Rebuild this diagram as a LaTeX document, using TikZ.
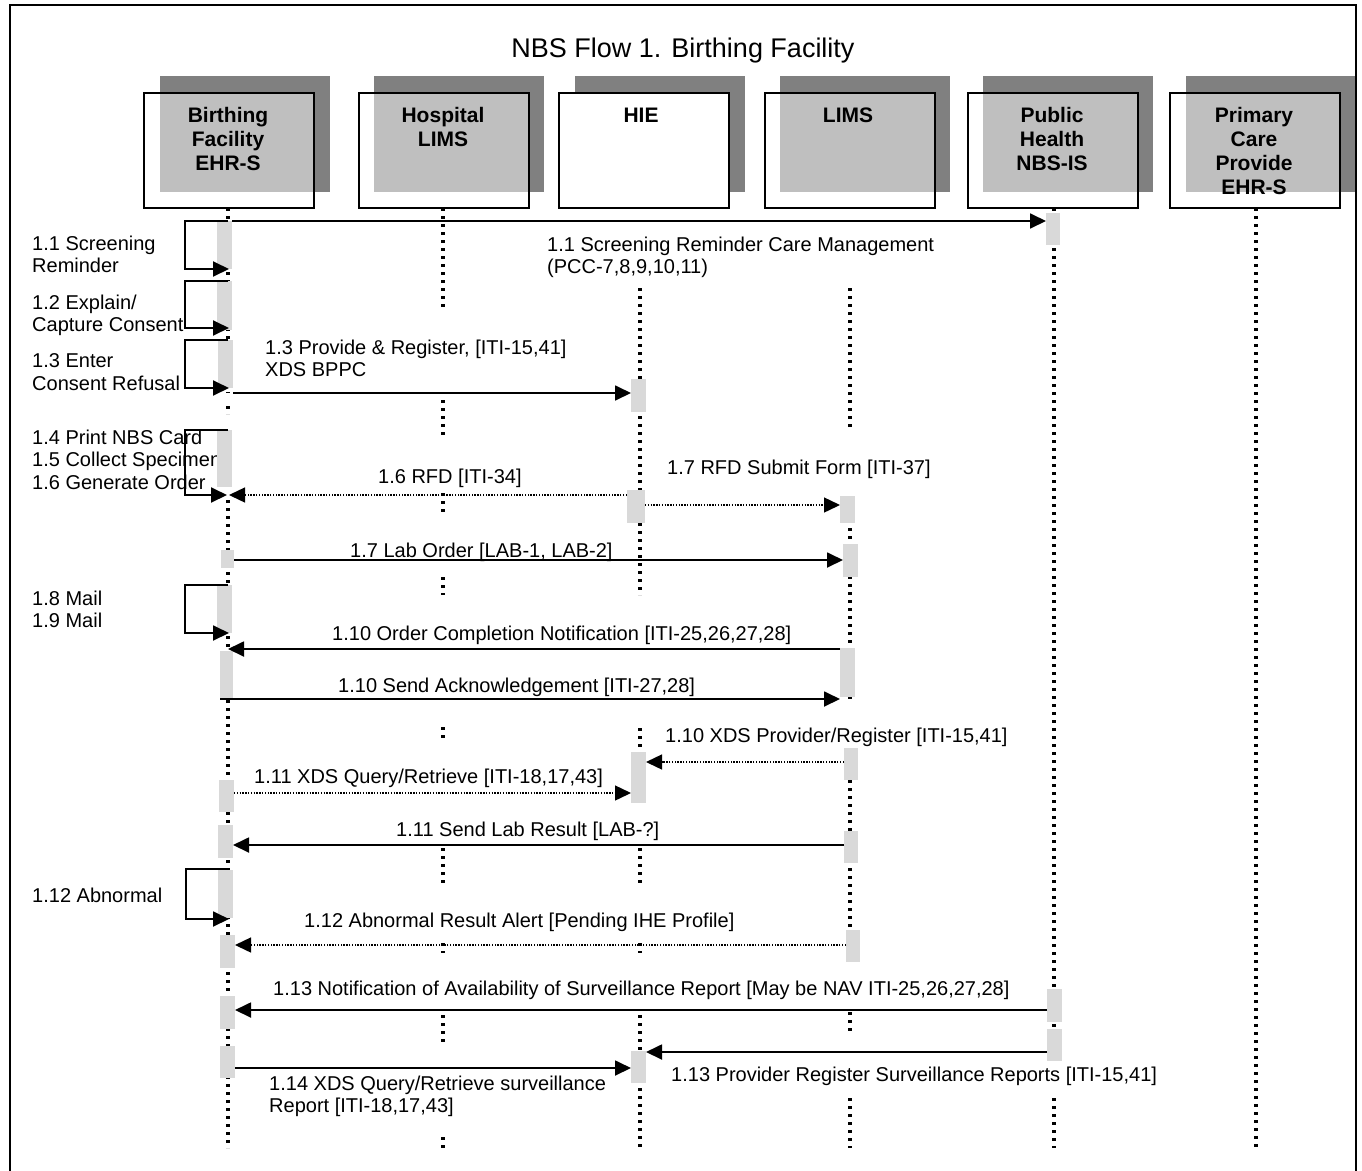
\documentclass[tikz,border=0pt]{standalone}
\usepackage{fontspec}
\setmainfont{Liberation Sans}
\usetikzlibrary{arrows.meta}
\definecolor{shadowgray}{HTML}{808080}
\definecolor{actgray}{HTML}{D9D9D9}
% lifeline segment: x, top, bottom
\newcommand{\lseg}[3]{\draw[life] (#1,#2) -- (#1,#3);}
% activation bar: name, left, right, top, bottom
\newcommand{\abar}[5]{\node[actbar, minimum width=#3pt-#2pt, minimum height=#5pt-#4pt] (#1) at ({(#2+#3)/2},{(#4+#5)/2}) {};}
\begin{document}
\begin{tikzpicture}[x=1pt,y=-1pt,
  txt/.style={inner sep=0pt, font=\fontsize{20}{22.8}\selectfont, align=left},
  hdr/.style={inner sep=0pt, anchor=north, font=\fontsize{21}{24}\selectfont\bfseries, align=center},
  hbox/.style={draw, line width=1.8pt, inner sep=0pt, anchor=north west, minimum width=170pt, minimum height=115pt},
  life/.style={line width=3.6pt, dash pattern=on 3.4pt off 4.6pt},
  actbar/.style={fill=actgray, draw=none, inner sep=0pt, outer sep=0pt},
  tip/.style={-{Triangle[length=16pt,width=15pt]}},
  msg/.style={tip, line width=1.8pt},
  dmsg/.style={tip, line width=1.4pt, dash pattern=on 1.4pt off 1.4pt},
  selfloop/.style={tip, line width=1.9pt},
]
\useasboundingbox (0,0) rectangle (1362,1170);

% outer frame
\draw[line width=2pt] (10,1175) -- (10,5) -- (1356,5) -- (1356,1175);

% title
\node[inner sep=0pt, anchor=base, font=\fontsize{27}{30}\selectfont] (title) at (683,57) {NBS Flow 1. Birthing Facility};

% participant boxes with offset shadows
\fill[shadowgray] (160,76) rectangle (330,192);
\fill[shadowgray] (374,76) rectangle (544,192);
\fill[shadowgray] (575,76) rectangle (745,192);
\fill[shadowgray] (780,76) rectangle (950,192);
\fill[shadowgray] (983,76) rectangle (1153,192);
\fill[shadowgray] (1186,76) rectangle (1355,192);

\node[hbox, fill=white, fill opacity=0.5] (boxB) at (143,92) {};
\node[hbox, fill=white, fill opacity=0.5] (boxH) at (358,92) {};
\node[hbox, fill=white] (boxX) at (558,92) {};
\node[hbox, fill=white, fill opacity=0.5] (boxL) at (764,92) {};
\node[hbox, fill=white, fill opacity=0.5] (boxP) at (967,92) {};
\node[hbox, fill=white, fill opacity=0.5] (boxC) at (1169,92) {};

\node[hdr] (tB) at (228,107.5) {Birthing\\Facility\\EHR-S};
\node[hdr] (tH) at (443,107.5) {Hospital\\LIMS};
\node[hdr] (tX) at (641,107.5) {HIE};
\node[hdr] (tL) at (848,107.5) {LIMS};
\node[hdr] (tP) at (1052,107.5) {Public\\Health\\NBS-IS};
\node[hdr] (tC) at (1254,107.5) {Primary\\Care\\Provide\\EHR-S};

% lifelines
\coordinate (B) at (228,0);
\coordinate (H) at (443,0);
\coordinate (X) at (640,0);
\coordinate (L) at (850,0);
\coordinate (P) at (1054,0);
\coordinate (C) at (1256,0);

\lseg{228}{208}{393}
\lseg{228}{406}{414}
\lseg{228}{500}{1148}

\lseg{443}{208}{307}
\lseg{443}{400}{435}
\lseg{443}{493}{512}
\lseg{443}{577}{595}
\lseg{443}{727}{740}
\lseg{443}{848}{883}
\lseg{443}{943}{953}
\lseg{443}{1015}{1043}
\lseg{443}{1137}{1148}

\lseg{640}{288}{490}
\lseg{640}{523}{595}
\lseg{640}{728}{803}
\lseg{640}{848}{883}
\lseg{640}{943}{953}
\lseg{640}{1015}{1051}
\lseg{640}{1088}{1148}

\lseg{850}{288}{427}
\lseg{850}{496}{700}
\lseg{850}{748}{963}
\lseg{850}{1012}{1035}
\lseg{850}{1098}{1148}

\lseg{1054}{208}{1062}
\lseg{1054}{1098}{1148}

\lseg{1256}{208}{1148}

% self-call labels
\node[txt, anchor=north west] (n11) at (32,235.4) {1.1 Screening\\Reminder};
\node[txt, anchor=north west] (n12) at (32,294.4) {1.2 Explain/\\Capture Consent};
\node[txt, anchor=north west] (n13) at (32,353.4) {1.3 Enter\\Consent Refusal};
\node[txt, anchor=north west] (n14) at (32,429.4) {1.4 Print NBS Card\\1.5 Collect Specimen\\1.6 Generate Order};
\node[txt, anchor=north west] (n18) at (32,590.4) {1.8 Mail\\1.9 Mail};
\node[txt, anchor=north west] (n112) at (32,887.4) {1.12 Abnormal};

% message labels
\node[txt, anchor=north west] (m11) at (547,236.4) {1.1 Screening Reminder Care Management\\(PCC-7,8,9,10,11)};
\node[txt, anchor=north west] (m13) at (265,339.4) {1.3 Provide \& Register, [ITI-15,41]\\XDS BPPC};
\node[txt, anchor=base west] (m16) at (378,483) {1.6 RFD [ITI-34]};
\node[txt, anchor=base west] (m17a) at (667,474) {1.7 RFD Submit Form [ITI-37]};
\node[txt, anchor=base west] (m17b) at (350,557) {1.7 Lab Order [LAB-1, LAB-2]};
\node[txt, anchor=base west] (m110a) at (332,640) {1.10 Order Completion Notification [ITI-25,26,27,28]};
\node[txt, anchor=base west] (m110b) at (338,692) {1.10 Send Acknowledgement [ITI-27,28]};
\node[txt, anchor=base west] (m110c) at (665,742) {1.10 XDS Provider/Register [ITI-15,41]};
\node[txt, anchor=base west] (m111a) at (254,783) {1.11 XDS Query/Retrieve [ITI-18,17,43]};
\node[txt, anchor=base west] (m111b) at (396,836) {1.11 Send Lab Result [LAB-?]};
\node[txt, anchor=base west] (m112) at (304,927) {1.12 Abnormal Result Alert [Pending IHE Profile]};
\node[txt, anchor=base west] (m113a) at (273,995) {1.13 Notification of Availability of Surveillance Report [May be NAV ITI-25,26,27,28]};
\node[txt, anchor=base west] (m113b) at (671,1081) {1.13 Provider Register Surveillance Reports [ITI-15,41]};
\node[txt, anchor=north west] (m114) at (269,1075.4) {1.14 XDS Query/Retrieve surveillance\\Report [ITI-18,17,43]};

% activation bars
\abar{b1}{217}{232}{221}{269}
\abar{b2}{217}{232}{281}{330}
\abar{b3}{218}{233}{340}{388}
\abar{b4}{217}{232}{430}{487}
\abar{b5}{221}{234}{550}{568}
\abar{b6}{217}{232}{585}{633}
\abar{b7}{220}{233}{651}{698}
\abar{b8}{219}{234}{780}{812}
\abar{b9}{218}{233}{825}{858}
\abar{b10}{218}{233}{870}{918}
\abar{b11}{220}{235}{935}{968}
\abar{b12}{220}{235}{996}{1029}
\abar{b13}{220}{235}{1046}{1078}

\abar{x1}{631}{646}{379}{412}
\abar{x2}{627}{645}{490}{523}
\abar{x3}{631}{646}{752}{803}
\abar{x4}{631}{646}{1051}{1083}

\abar{l1}{840}{855}{496}{523}
\abar{l2}{843}{858}{544}{577}
\abar{l3}{840}{855}{648}{697}
\abar{l4}{844}{858}{748}{780}
\abar{l5}{844}{858}{831}{863}
\abar{l6}{846}{860}{930}{962}

\abar{p1}{1046}{1060}{213}{245}
\abar{p2}{1047}{1062}{989}{1022}
\abar{p3}{1047}{1062}{1029}{1061}

% self calls on the birthing facility
\draw[selfloop] (B |- 0,221) -- (185,221) -- (185,269) -- (229,269);
\draw[selfloop] (B |- 0,281) -- (185,281) -- (185,328) -- (229,328);
\draw[selfloop] (B |- 0,340) -- (185,340) -- (185,388) -- (229,388);
\draw[selfloop] (B |- 0,430) -- (185,430) -- (185,495) -- (227,495);
\draw[selfloop] (B |- 0,585) -- (185,585) -- (185,633) -- (229,633);
\draw[selfloop] (B |- 0,869) -- (186,869) -- (186,919) -- (229,919);

% messages
\draw[msg] (b1.east |- 0,221) -- (p1.west |- 0,221);
\draw[msg] (b3.east |- 0,393) -- (x1.west |- 0,393);
\draw[dmsg] (x2.west |- 0,495) -- (229,495);
\draw[dmsg] (x2.east |- 0,505) -- (l1.west |- 0,505);
\draw[msg] (b5.east |- 0,560) -- (l2.west |- 0,560);
\draw[msg] (l3.west |- 0,649) -- (B |- 0,649);
\draw[msg] (b7.north west |- 0,699) -- (l3.west |- 0,699);
\draw[dmsg] (l4.west |- 0,762) -- (x3.east |- 0,762);
\draw[dmsg] (b8.east |- 0,793) -- (x3.west |- 0,793);
\draw[msg] (l5.west |- 0,845) -- (b9.east |- 0,845);
\draw[dmsg] (l6.west |- 0,945) -- (b11.east |- 0,945);
\draw[msg] (p2.west |- 0,1010) -- (b12.east |- 0,1010);
\draw[msg] (p3.west |- 0,1052) -- (x4.east |- 0,1052);
\draw[msg] (b13.east |- 0,1068) -- (x4.west |- 0,1068);

\end{tikzpicture}
\end{document}
